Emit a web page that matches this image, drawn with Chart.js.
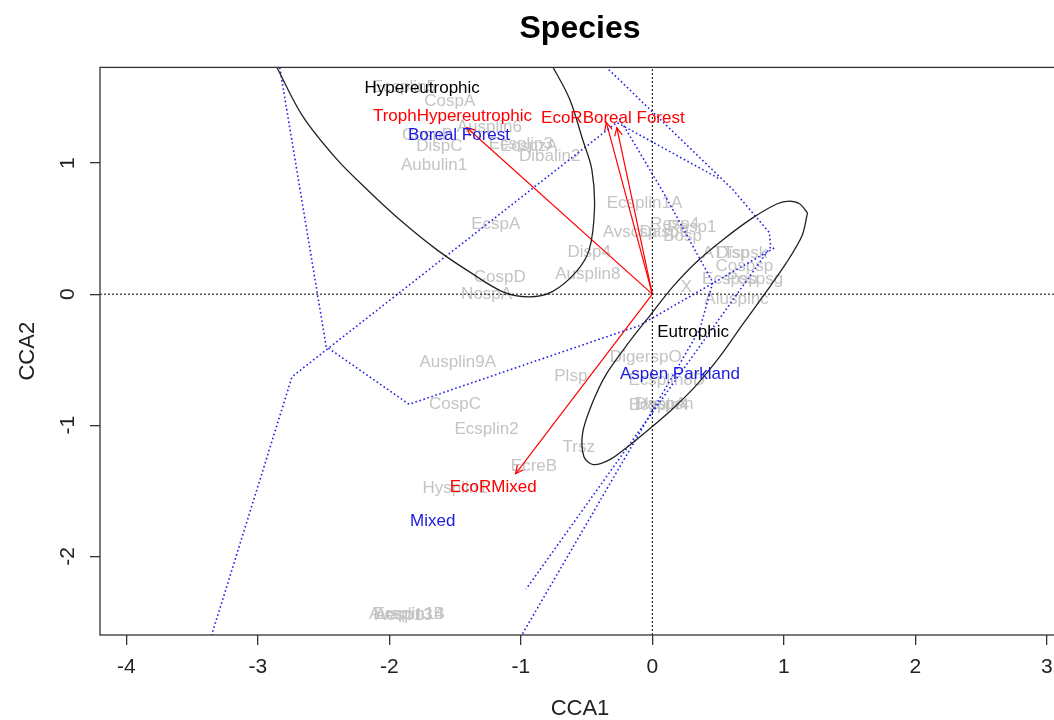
<!DOCTYPE html>
<html><head><meta charset="utf-8">
<script src="https://cdn.jsdelivr.net/npm/chart.js@4"></script>
<style>html,body{margin:0;padding:0;overflow:hidden;background:#fff}#wrap{position:absolute;left:0;top:0;width:1110px;height:720px}</style>
</head><body><div id="wrap"><canvas id="c" width="1110" height="720"></canvas></div>
<script>
// ---------- data ----------
const xTicks = [-4, -3, -2, -1, 0, 1, 2, 3];
const yTicks = [-2, -1, 0, 1];
const xRange = [-4.2, 3.1];
const yRange = [-2.6, 1.73];

// species scores (gray labels)
const speciesNames = ["Ecsplin5","CospA","Ausplin6","CospB","DispC","Aubulin1","Ecsplin3","EcspzA","Dibalin2","EcspA","Ecsplin1A","Avscsp","Dasp9","Resp4","Bosp","Resp1","Disp4","CospD","Ausplin8","NospA","X","ATTsp","Dispsk","Cospsp","Ecspsp","Pospsg","Aluspinc","DigerspO","Ecsplin8D","Plsp","Ausplin9A","CospC","Ecsplin2","HyspA","Daspen","Ecspin4","Trsz","EcreB","Hysplin1","Ausplin14","Ecspin1B","Aesp13"];
const speciesX = [-1.89,-1.54,-1.24,-1.71,-1.62,-1.66,-1.00,-0.94,-0.78,-1.19,-0.06,-0.17,0.09,0.17,0.23,0.30,-0.48,-1.16,-0.49,-1.26,0.26,0.56,0.68,0.70,0.59,0.78,0.64,-0.05,0.11,-0.62,-1.48,-1.50,-1.26,0.07,0.09,0.05,-0.56,-0.90,-1.50,-1.87,-1.85,-1.89];
const speciesY = [1.58,1.47,1.27,1.21,1.13,0.98,1.14,1.13,1.05,0.53,0.69,0.47,0.47,0.53,0.44,0.51,0.32,0.13,0.15,0.00,0.05,0.31,0.31,0.21,0.11,0.11,-0.04,-0.48,-0.66,-0.63,-0.52,-0.84,-1.03,-0.84,-0.84,-0.85,-1.17,-1.31,-1.48,-2.44,-2.44,-2.45];

// trophic ellipses (black)
const hyperEllX = [-3.00,-2.86,-2.66,-2.40,-2.15,-1.90,-1.64,-1.39,-1.14,-0.94,-0.76,-0.58,-0.48,-0.44,-0.46,-0.53,-0.63,-0.76,-0.90];
const hyperEllY = [ 2.00, 1.74, 1.36, 1.03, 0.78, 0.55, 0.34, 0.17, 0.02,-0.02, 0.02, 0.17, 0.34, 0.65, 0.95, 1.18, 1.49, 1.74, 2.00];
const eutroEllX = [1.18,1.12,1.04,0.95,0.76,0.53,0.33,0.15,0.00,-0.18,-0.35,-0.46,-0.53,-0.52,-0.45,-0.32,-0.17,0.00,0.17,0.33,0.51,0.68,0.86,1.02,1.14,1.18];
const eutroEllY = [0.62,0.69,0.71,0.69,0.58,0.41,0.24,0.05,-0.14,-0.37,-0.61,-0.84,-1.06,-1.24,-1.30,-1.26,-1.15,-1.01,-0.86,-0.70,-0.48,-0.24,0.01,0.24,0.45,0.62];

// ecoregion hulls (blue dotted)
const hull1X = [-2.87,-2.48,-1.85,-0.10,0.94];
const hull1Y = [ 1.95,-0.40,-0.84,-0.24,0.36];
const hull2X = [-3.41,-2.74,-0.27,0.51];
const hull2Y = [-2.79,-0.63, 1.31,0.88];
const hull3X = [-0.40,0.61,0.89,0.90,-0.96];
const hull3Y = [ 1.78,0.80,0.47,0.36,-2.25];
const hull4X = [-0.25,0.07,0.46,0.36,-1.01];
const hull4Y = [ 1.34,0.80,0.09,-0.27,-2.63];

// biplot arrows (red)
const arrowNames = ["TrophHypereutrophic","EcoRBoreal Forest","","EcoRMixed"];
const arrowX = [-1.41,-0.35,-0.27,-1.04];
const arrowY = [ 1.27, 1.31, 1.27,-1.37];
const arrowLabelX = [-1.52,-0.30,null,-1.21];
const arrowLabelY = [ 1.36, 1.34,null,-1.47];

// group labels
const trophNames = ["Hypereutrophic","Eutrophic"];
const trophX = [-1.75,0.31];
const trophY = [1.57,-0.29];
const ecoNames = ["Boreal Forest","Aspen Parkland","Mixed"];
const ecoX = [-1.47,0.21,-1.67];
const ecoY = [1.21,-0.61,-1.73];

// ---------- build ----------
const pts = (xs, ys) => xs.map((x, i) => ({x, y: ys[i]}));
const FONT = "'Liberation Sans', Arial, sans-serif";
const BLUE = '#2020e8';

const datasets = [];
datasets.push({data: [{x: xRange[0], y: 0}, {x: xRange[1], y: 0}], borderColor: '#000', borderWidth: 1, borderDash: [2, 2]});
datasets.push({data: [{x: 0, y: yRange[0]}, {x: 0, y: yRange[1]}], borderColor: '#000', borderWidth: 1, borderDash: [2, 2]});
datasets.push({data: pts(hyperEllX, hyperEllY), borderColor: '#222', borderWidth: 1.3, tension: 0.35});
datasets.push({data: pts(eutroEllX, eutroEllY), borderColor: '#222', borderWidth: 1.3, tension: 0.3});
[[hull1X, hull1Y], [hull2X, hull2Y], [hull3X, hull3Y], [hull4X, hull4Y]].forEach(([hx, hy]) => {
  datasets.push({data: pts(hx, hy), borderColor: BLUE, borderWidth: 1.6, borderDash: [1.6, 2.6]});
});
arrowX.forEach((ax, i) => {
  datasets.push({data: [{x: 0, y: 0}, {x: ax, y: arrowY[i]}], borderColor: '#ff0000', borderWidth: 1.2});
});
datasets.forEach(d => { d.showLine = true; d.pointRadius = 0; d.fill = false; });

const textPlugin = {
  id: 'texts',
  beforeDatasetsDraw(chart) {
    const {ctx, scales: {x, y}} = chart;
    ctx.save();
    ctx.font = '17px ' + FONT;
    ctx.textAlign = 'center';
    ctx.textBaseline = 'middle';
    ctx.fillStyle = '#c4c4c4';
    speciesNames.forEach((n, i) => ctx.fillText(n, x.getPixelForValue(speciesX[i]), y.getPixelForValue(speciesY[i])));
    ctx.restore();
  },
  afterDatasetsDraw(chart) {
    const {ctx, scales: {x, y}, chartArea: a} = chart;
    ctx.save();
    ctx.strokeStyle = '#ff0000';
    ctx.lineWidth = 1.2;
    const ox = x.getPixelForValue(0), oy = y.getPixelForValue(0);
    arrowX.forEach((ax, i) => {
      const tx = x.getPixelForValue(ax), ty = y.getPixelForValue(arrowY[i]);
      const ang = Math.atan2(ty - oy, tx - ox);
      const L = 9;
      ctx.beginPath();
      ctx.moveTo(tx - L * Math.cos(ang - 0.45), ty - L * Math.sin(ang - 0.45));
      ctx.lineTo(tx, ty);
      ctx.lineTo(tx - L * Math.cos(ang + 0.45), ty - L * Math.sin(ang + 0.45));
      ctx.stroke();
    });
    ctx.font = '17px ' + FONT;
    ctx.textAlign = 'center';
    ctx.textBaseline = 'middle';
    ctx.fillStyle = '#000';
    trophNames.forEach((n, i) => ctx.fillText(n, x.getPixelForValue(trophX[i]), y.getPixelForValue(trophY[i])));
    ctx.fillStyle = '#1a1ae0';
    ecoNames.forEach((n, i) => ctx.fillText(n, x.getPixelForValue(ecoX[i]), y.getPixelForValue(ecoY[i])));
    ctx.fillStyle = '#ff0000';
    arrowNames.forEach((n, i) => { if (n) ctx.fillText(n, x.getPixelForValue(arrowLabelX[i]), y.getPixelForValue(arrowLabelY[i])); });
    ctx.strokeStyle = '#333';
    ctx.lineWidth = 1.3;
    ctx.strokeRect(a.left, a.top, a.right - a.left, a.bottom - a.top);
    ctx.restore();
  }
};

new Chart(document.getElementById('c'), {
  type: 'scatter',
  data: {datasets},
  options: {
    responsive: false,
    animation: false,
    layout: {padding: {left: 0, right: 50, top: 0, bottom: 0}},
    plugins: {
      legend: {display: false},
      tooltip: {enabled: false},
      title: {display: true, text: 'Species', fullSize: false, color: '#000',
        font: {family: FONT, size: 32, weight: 'bold'}, padding: {top: 10, bottom: 19}}
    },
    scales: {
      x: {
        type: 'linear', min: xRange[0], max: xRange[1],
        afterBuildTicks: s => { s.ticks = xTicks.map(v => ({value: v})); },
        afterFit: s => { s.height = 85; },
        grid: {display: true, drawOnChartArea: false, drawTicks: true, tickLength: 10, color: '#333', lineWidth: 1.3},
        border: {display: false},
        ticks: {color: '#222', font: {family: FONT, size: 21}, padding: 10, maxRotation: 0},
        title: {display: true, text: 'CCA1', color: '#222', font: {family: FONT, size: 22}, padding: {top: 0, bottom: -2}}
      },
      y: {
        type: 'linear', min: yRange[0], max: yRange[1],
        afterBuildTicks: s => { s.ticks = yTicks.map(v => ({value: v})); },
        afterFit: s => { s.width = 100; },
        grid: {display: true, drawOnChartArea: false, drawTicks: true, tickLength: 10, color: '#333', lineWidth: 1.3},
        border: {display: false},
        ticks: {color: '#222', font: {family: FONT, size: 21}, padding: 12, minRotation: 90, maxRotation: 90, crossAlign: 'center'},
        title: {display: true, text: 'CCA2', color: '#222', font: {family: FONT, size: 22}, padding: {top: 15, bottom: 0}}
      }
    }
  },
  plugins: [textPlugin]
});
</script></body></html>
